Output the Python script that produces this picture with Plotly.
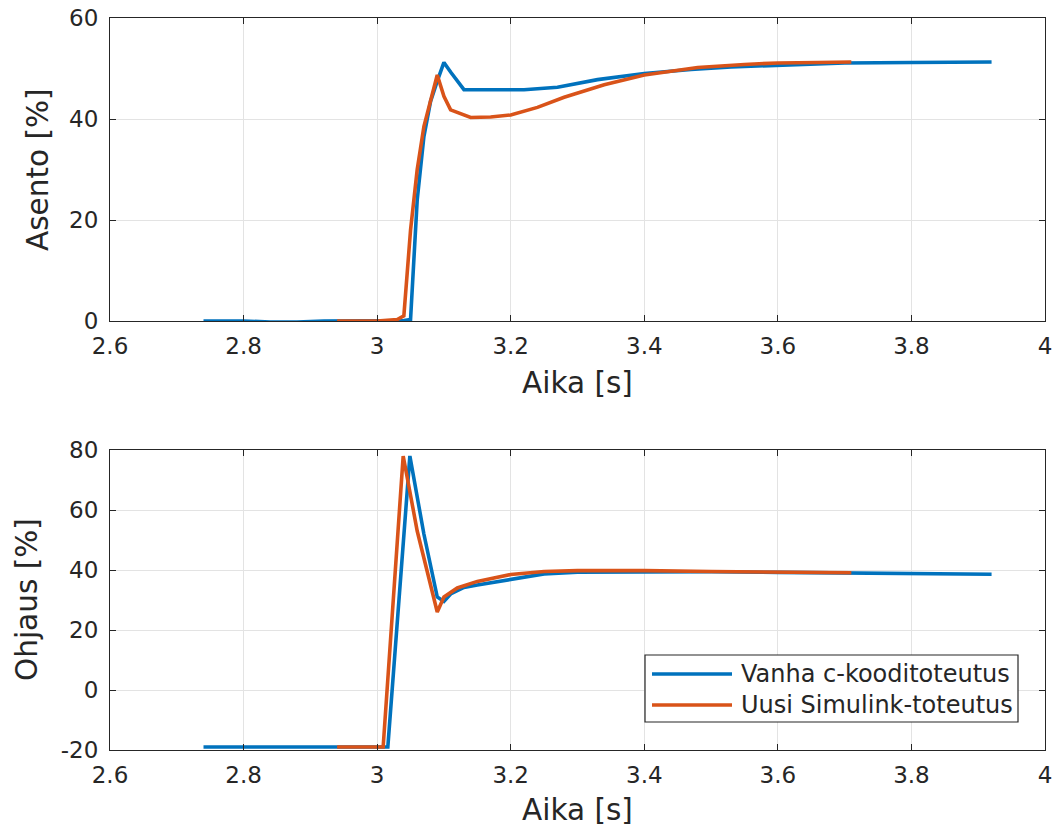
import plotly.graph_objects as go

# Top panel (Asento)
t_old_pos = [2.74, 2.80, 2.84, 2.88, 2.92, 3.00, 3.04, 3.05, 3.06, 3.07, 3.08, 3.09, 3.10, 3.11, 3.12, 3.13,
             3.18, 3.22, 3.27, 3.33, 3.40, 3.47, 3.53, 3.60, 3.70, 3.80, 3.92]
y_old_pos = [0.0, 0.0, -0.2, -0.2, 0.0, 0.0, 0.1, 0.3, 24.0, 36.5, 43.5, 47.5, 51.2, 49.3, 47.4, 45.8,
             45.8, 45.8, 46.3, 47.8, 49.0, 49.8, 50.3, 50.7, 51.1, 51.2, 51.3]
t_new_pos = [2.94, 3.00, 3.03, 3.04, 3.05, 3.06, 3.07, 3.08, 3.09, 3.10, 3.11, 3.14, 3.17, 3.20, 3.24,
             3.28, 3.34, 3.40, 3.48, 3.55, 3.60, 3.66, 3.71]
y_new_pos = [0.0, 0.0, 0.3, 1.0, 18.0, 30.0, 38.5, 43.5, 48.7, 44.5, 41.8, 40.3, 40.4, 40.8, 42.3,
             44.3, 46.8, 48.7, 50.2, 50.8, 51.1, 51.2, 51.3]

# Bottom panel (Ohjaus)
t_old_ctl = [2.74, 2.90, 3.00, 3.016, 3.049, 3.07, 3.09, 3.10, 3.11, 3.13, 3.15, 3.20, 3.25, 3.30, 3.40,
             3.50, 3.60, 3.70, 3.80, 3.92]
y_old_ctl = [-19.0, -19.0, -19.0, -19.0, 78.0, 52.0, 31.0, 29.5, 32.0, 34.2, 35.0, 37.0, 38.7, 39.3, 39.5,
             39.4, 39.2, 39.0, 38.8, 38.6]
t_new_ctl = [2.94, 3.00, 3.009, 3.039, 3.06, 3.09, 3.10, 3.12, 3.15, 3.20, 3.25, 3.30, 3.40, 3.50, 3.60, 3.71]
y_new_ctl = [-19.0, -19.0, -19.0, 78.0, 53.0, 26.0, 31.0, 34.0, 36.2, 38.5, 39.5, 39.8, 39.8, 39.5, 39.3, 39.1]

names = ["Vanha c-kooditoteutus", "Uusi Simulink-toteutus"]
c_blue = "#0072BD"
c_orange = "#D95319"
colors = [c_blue, c_orange]

x_ticks = [2.6, 2.8, 3.0, 3.2, 3.4, 3.6, 3.8, 4.0]
x_ticktext = ["2.6", "2.8", "3", "3.2", "3.4", "3.6", "3.8", "4"]
y1_ticks = [0, 20, 40, 60]
y1_ticktext = ["0", "20", "40", "60"]
y2_ticks = [-20, 0, 20, 40, 60, 80]
y2_ticktext = ["-20", "0", "20", "40", "60", "80"]

fig = go.Figure()
fig.add_trace(go.Scatter(x=t_old_pos, y=y_old_pos, mode="lines", line=dict(color=c_blue, width=3.6),
                         name=names[0], showlegend=False, xaxis="x", yaxis="y"))
fig.add_trace(go.Scatter(x=t_new_pos, y=y_new_pos, mode="lines", line=dict(color=c_orange, width=3.6),
                         name=names[1], showlegend=False, xaxis="x", yaxis="y"))
fig.add_trace(go.Scatter(x=t_old_ctl, y=y_old_ctl, mode="lines", line=dict(color=c_blue, width=3.6),
                         name=names[0], showlegend=False, xaxis="x2", yaxis="y2"))
fig.add_trace(go.Scatter(x=t_new_ctl, y=y_new_ctl, mode="lines", line=dict(color=c_orange, width=3.6),
                         name=names[1], showlegend=False, xaxis="x2", yaxis="y2"))

W, H = 1061, 830
ML, MR, MT, MB = 110, 16, 18, 80
PW = W - ML - MR
PH = H - MT - MB
font_c = "#262626"


def px(xp):
    return (xp - ML) / PW


def py(yp):
    return (H - MB - yp) / PH


axis_common = dict(showline=True, linecolor=font_c, linewidth=1.2, mirror="ticks", ticks="inside",
                   ticklen=6, tickcolor=font_c, showgrid=True, gridcolor="#E3E3E3", gridwidth=1,
                   zeroline=False, automargin=False,
                   tickfont=dict(family="DejaVu Sans", size=23, color=font_c))

fig.update_layout(
    width=W, height=H, margin=dict(l=ML, r=MR, t=MT, b=MB, autoexpand=False),
    paper_bgcolor="white", plot_bgcolor="white",
    font=dict(family="DejaVu Sans", color=font_c),
    xaxis=dict(domain=[0, 1], range=[2.6, 4.0], tickvals=x_ticks, ticktext=x_ticktext,
               anchor="y", ticklabelstandoff=4, **axis_common),
    yaxis=dict(domain=[py(321), py(18)], range=[0, 60], tickvals=y1_ticks, ticktext=y1_ticktext,
               anchor="x", ticklabelstandoff=6, **axis_common),
    xaxis2=dict(domain=[0, 1], range=[2.6, 4.0], tickvals=x_ticks, ticktext=x_ticktext,
                anchor="y2", ticklabelstandoff=4, **axis_common),
    yaxis2=dict(domain=[py(750), py(450)], range=[-20, 80], tickvals=y2_ticks, ticktext=y2_ticktext,
                anchor="x2", ticklabelstandoff=6, **axis_common),
    showlegend=False,
)

# Legend box (drawn in the lower panel, like the original)
fig.add_shape(type="rect", xref="paper", yref="paper", x0=px(645), x1=px(1018), y0=py(722), y1=py(655),
              line=dict(color=font_c, width=1.2), fillcolor="white", layer="above")
leg_font = dict(family="DejaVu Sans", size=24, color=font_c)
for i, (nm, col) in enumerate(zip(names, colors)):
    yy = 674 + i * 31
    fig.add_shape(type="line", xref="paper", yref="paper", x0=px(652), x1=px(732), y0=py(yy), y1=py(yy),
                  line=dict(color=col, width=3.6), layer="above")
    fig.add_annotation(text=nm, x=px(739), y=py(yy), xref="paper", yref="paper", showarrow=False,
                       font=leg_font, xanchor="left", yanchor="middle")

ann_font = dict(family="DejaVu Sans", size=29.5, color=font_c)
fig.add_annotation(text="Aika [s]", x=px(577), y=py(383), xref="paper", yref="paper",
                   showarrow=False, font=ann_font, xanchor="center", yanchor="middle")
fig.add_annotation(text="Aika [s]", x=px(577), y=py(810), xref="paper", yref="paper",
                   showarrow=False, font=ann_font, xanchor="center", yanchor="middle")
fig.add_annotation(text="Asento [%]", x=px(38), y=py(170), xref="paper", yref="paper",
                   showarrow=False, font=ann_font, textangle=-90, xanchor="center", yanchor="middle")
fig.add_annotation(text="Ohjaus [%]", x=px(27), y=py(600), xref="paper", yref="paper",
                   showarrow=False, font=ann_font, textangle=-90, xanchor="center", yanchor="middle")

fig.write_html("out.html")
